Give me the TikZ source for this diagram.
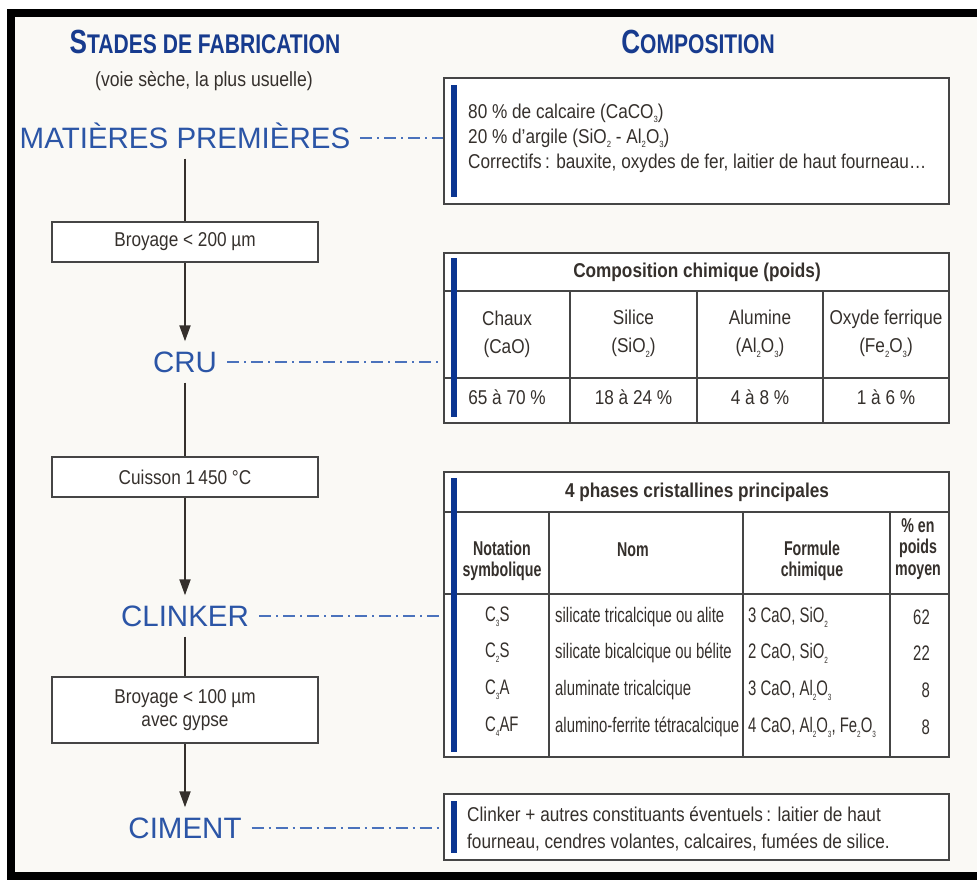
\documentclass[tikz,border=0pt]{standalone}
\usepackage{fontspec}
\setmainfont{Liberation Sans}
\newfontfamily\narrowfont[FakeStretch=0.86]{Liberation Sans}
\newfontfamily\condfont[FakeStretch=0.71]{Liberation Sans}
\newfontfamily\titlefont[FakeStretch=0.78]{Liberation Sans}
\usetikzlibrary{positioning,arrows.meta}
\definecolor{bgcol}{HTML}{FAF9F5}
\definecolor{stageblue}{HTML}{2B55A6}
\definecolor{dashblue}{HTML}{4A72BC}
\definecolor{titleblue}{HTML}{173B8E}
\definecolor{barblue}{HTML}{0B3591}
\definecolor{ink}{HTML}{35302C}
\definecolor{boxgray}{HTML}{454545}
\newcommand{\sbs}[1]{\raisebox{-0.45ex}{\fontsize{9}{9}\selectfont #1}}
\newcommand{\txt}{\narrowfont\fontsize{20}{25}\selectfont}
\newcommand{\tabtxt}{\condfont\fontsize{21}{24}\selectfont}
\newcommand{\headtxt}{\condfont\bfseries\fontsize{20}{21.5}\selectfont}
\newcommand{\stagetxt}{\fontsize{29.5}{30}\selectfont}
\newcommand{\captitle}[2]{{\fontsize{33.5}{34}\selectfont #1}{\fontsize{27}{28}\selectfont #2}}
\begin{document}
\begin{tikzpicture}[x=1pt,y=-1pt,>={Triangle[width=11pt,length=16pt]},%
on grid,stage/.style={font=\stagetxt,text=stageblue,text height=21pt,text depth=0pt,inner sep=10pt},
proc/.style={draw=boxgray,line width=2pt,fill=white,minimum width=266pt,font=\txt,text=ink,align=center,inner sep=0pt},
compbox/.style={draw=boxgray,line width=2pt,fill=white,minimum width=505pt,inner sep=0pt},
flow/.style={draw=ink,line width=2pt},
dashline/.style={draw=dashblue,line width=2.8pt,dash pattern=on 12pt off 5pt on 2pt off 5pt},
rule/.style={draw=boxgray,line width=2pt},
cell/.style={font=\txt,text=ink,align=center,inner sep=0pt},
tcell/.style={font=\tabtxt,text=ink,inner sep=0pt},
bar/.style={fill=barblue}]
%\draw[help lines] (0,0) grid (977,880);
\useasboundingbox (0,0) rectangle (977,880);
\fill[white] (0,0) rectangle (977,880);
\fill[bgcol] (11,13) rectangle (977,876);
\draw[line width=8pt] (977,13) -- (11,13) -- (11,876) -- (977,876);

% titres
\node[font=\titlefont\bfseries,text=titleblue] (tstades) at (205,42) {\captitle{S}{TADES DE FABRICATION}};
\node[font=\narrowfont\fontsize{20.5}{22}\selectfont,text=ink] (tvoie) at (204,81) {(voie sèche, la plus usuelle)};
\node[font=\titlefont\bfseries,text=titleblue] (tcomp) at (698,42) {\captitle{C}{OMPOSITION}};

% stades
\node[stage] (mp) at (185,138) {MATIÈRES PREMIÈRES};
\node[proc,minimum height=40pt] (b1) [below=104pt of mp] {Broyage < 200 µm};
\node[stage] (cru) [below=120pt of b1] {CRU};
\node[proc,minimum height=40pt] (b2) [below=115pt of cru] {Cuisson 1\,450 °C};
\node[stage] (clk) [below=139pt of b2] {CLINKER};
\node[proc,minimum height=66pt,font=\narrowfont\fontsize{20}{23}\selectfont] (b3) [below=94pt of clk] {Broyage < 100 µm\\avec gypse};
\node[stage] (cim) [below=118pt of b3] {CIMENT};

\path[flow] (mp) -- (b1);
\path[flow,->] (b1) -- (cru);
\path[flow] (cru) -- (b2);
\path[flow,->] (b2) -- (clk);
\path[flow] (clk) -- (b3);
\path[flow,->] (b3) -- (cim);

% composition
\node[compbox,minimum height=126pt] (c1) at (696.5,141) {};
\node[compbox,minimum height=170pt] (c2) at (696.5,338) {};
\node[compbox,minimum height=285pt] (c3) at (696.5,614.5) {};
\node[compbox,minimum height=66pt] (c4) at (696.5,827) {};

\path[dashline] (mp.east) -- (mp.east -| c1.west);
\path[dashline] (cru.east) -- (cru.east -| c2.west);
\path[dashline] (clk.east) -- (clk.east -| c3.west);
\path[dashline] (cim.east) -- (cim.east -| c4.west);

\node[cell,align=left,anchor=west] (t1) at (468,138) {80 \% de calcaire (CaCO\sbs{3})\\20 \% d’argile (SiO\sbs{2} - Al\sbs{2}O\sbs{3})\\Correctifs\,: bauxite, oxydes de fer, laitier de haut fourneau…};

% composition chimique
\path[rule] (444,291) -- (949,291) (444,378) -- (949,378)
  (570,291) -- (570,423) (697,291) -- (697,423) (823,291) -- (823,423);
\node[cell] (h2) at (697,272) {\bfseries Composition chimique (poids)};
\node[cell,font=\narrowfont\fontsize{20}{28}\selectfont] (k1) at (507,334) {Chaux\\(CaO)};
\node[cell,font=\narrowfont\fontsize{20}{28}\selectfont] (k2) at (633.5,334) {Silice\\(SiO\sbs{2})};
\node[cell,font=\narrowfont\fontsize{20}{28}\selectfont] (k3) at (760,334) {Alumine\\(Al\sbs{2}O\sbs{3})};
\node[cell,font=\narrowfont\fontsize{20}{28}\selectfont] (k4) at (886,334) {Oxyde ferrique\\(Fe\sbs{2}O\sbs{3})};
\node[cell] (v1) at (507,397) {65 à 70 \%};
\node[cell] (v2) at (633.5,397) {18 à 24 \%};
\node[cell] (v3) at (760,397) {4 à 8 \%};
\node[cell] (v4) at (886,397) {1 à 6 \%};

% phases cristallines
\path[rule] (444,512) -- (949,512) (444,594) -- (949,594)
  (549,512) -- (549,757) (743,512) -- (743,757) (890,512) -- (890,757);
\node[cell] (h3) at (697,492) {\bfseries 4 phases cristallines principales};
\node[cell,font=\headtxt] (n1) at (502,561) {Notation\\symbolique};
\node[cell,font=\headtxt] (n2) at (633,550) {Nom};
\node[cell,font=\headtxt] (n3) at (812,561) {Formule\\chimique};
\node[cell,font=\headtxt] (n4) at (918,549) {\% en\\poids\\moyen};

\node[tcell,anchor=west] (s1) at (485,617) {C\sbs{3}S};
\node[tcell,anchor=west] (s2) at (485,653) {C\sbs{2}S};
\node[tcell,anchor=west] (s3) at (485,690) {C\sbs{3}A};
\node[tcell,anchor=west] (s4) at (485,727) {C\sbs{4}AF};
\node[tcell,anchor=west] (m1) at (555,617) {silicate tricalcique ou alite};
\node[tcell,anchor=west] (m2) at (555,653) {silicate bicalcique ou bélite};
\node[tcell,anchor=west] (m3) at (555,690) {aluminate tricalcique};
\node[tcell,anchor=west] (m4) at (555,727) {alumino-ferrite tétracalcique};
\node[tcell,anchor=west] (f1) at (748,617) {3 CaO, SiO\sbs{2}};
\node[tcell,anchor=west] (f2) at (748,653) {2 CaO, SiO\sbs{2}};
\node[tcell,anchor=west] (f3) at (748,690) {3 CaO, Al\sbs{2}O\sbs{3}};
\node[tcell,anchor=west] (f4) at (748,727) {4 CaO, Al\sbs{2}O\sbs{3}, Fe\sbs{2}O\sbs{3}};
\node[tcell,anchor=east] (p1) at (930,617) {62};
\node[tcell,anchor=east] (p2) at (930,653) {22};
\node[tcell,anchor=east] (p3) at (930,690) {8};
\node[tcell,anchor=east] (p4) at (930,727) {8};

\node[cell,align=left,anchor=west,font=\narrowfont\fontsize{20}{27}\selectfont] (t4) at (467,828.5) {Clinker + autres constituants éventuels\,: laitier de haut\\fourneau, cendres volantes, calcaires, fumées de silice.};

% barres bleues
\fill[bar] (451,85) rectangle (457,197);
\fill[bar] (451,258) rectangle (457,417);
\fill[bar] (451,478) rectangle (457,752);
\fill[bar] (451,801) rectangle (457,853);
\end{tikzpicture}
\end{document}
